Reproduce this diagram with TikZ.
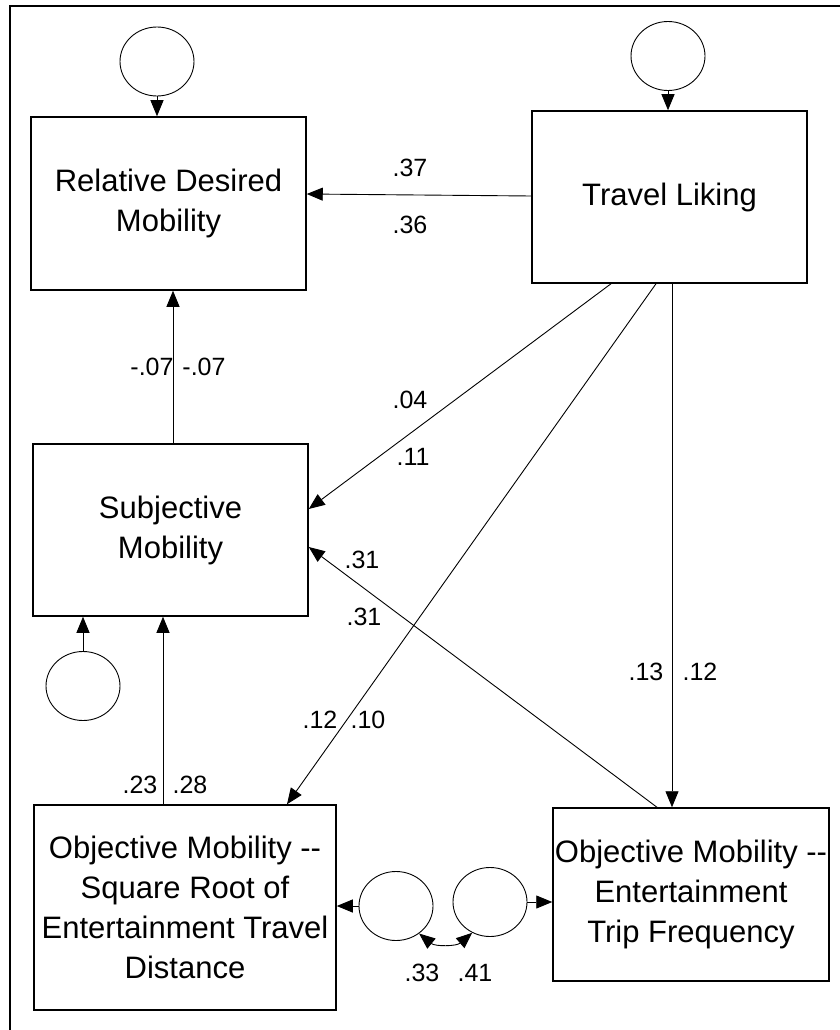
\documentclass[tikz,border=0pt]{standalone}
\usepackage{fontspec}
\setmainfont{Liberation Sans}
\usetikzlibrary{arrows.meta,shapes.geometric}

\tikzset{
  varbox/.style={draw,line width=1.5pt,rectangle,inner sep=0pt,align=center,
    font=\fontsize{31}{40}\selectfont},
  errcirc/.style={draw,line width=0.9pt,ellipse,inner sep=0pt,minimum width=74pt,minimum height=69pt},
  path/.style={line width=0.9pt,-{Triangle[length=16pt,width=13pt]}},
  coef/.style={inner sep=0pt,font=\fontsize{25}{25}\selectfont}
}

\begin{document}
\begin{tikzpicture}[x=1pt,y=-1pt]
	\useasboundingbox (0,0) rectangle (840,1030);
	\draw[line width=2pt] (9.5,1030) -- (9.5,6) -- (840,6);
	% observed variables
	\node[varbox,minimum width=275pt,minimum height=173pt] (rdm) at (168.5,203.5) {Relative Desired\\Mobility};
	\node[varbox,minimum width=275pt,minimum height=172pt] (tl) at (669.5,197) {Travel Liking};
	\node[varbox,minimum width=275pt,minimum height=172pt] (sm) at (170.5,530) {Subjective\\Mobility};
	\node[varbox,minimum width=302pt,minimum height=205pt] (omd) at (185,907.5) {Objective Mobility -{}-\\Square Root of\\Entertainment Travel\\Distance};
	\node[varbox,minimum width=276pt,minimum height=173pt] (omf) at (691,894.5) {Objective Mobility -{}-\\Entertainment\\Trip Frequency};
	% error terms
	\node[errcirc] (e1) at (157,61.5) {};
	\node[errcirc] (e2) at (668,56) {};
	\node[errcirc] (e3) at (83,686) {};
	\node[errcirc] (e4) at (396,906) {};
	\node[errcirc] (e5) at (490,902) {};
	% paths
	\draw[path] (e1.south) -- (e1.south |- rdm.north);
	\draw[path] (e2.south) -- (e2.south |- tl.north);
	\draw[path] (e3.north) -- (e3.north |- sm.south);
	\draw[path] (e4.west) -- (e4.west -| omd.east);
	\draw[path] (e5.east) -- (e5.east -| omf.west);
	\draw[path] ([yshift=1pt]tl.west) -- ([yshift=9.5pt]rdm.east);
	\draw[path] ([xshift=2.5pt]sm.north) -- ([xshift=2.5pt]sm.north |- rdm.south);
	\draw[path] ([xshift=-58.5pt]tl.south) -- ([yshift=21pt]sm.east);
	\draw[path] ([xshift=-13.5pt]tl.south) -- ([xshift=102pt]omd.north);
	\draw[path] ([xshift=2.5pt]tl.south) -- ([xshift=2.5pt]tl.south |- omf.north);
	\draw[path] ([xshift=-34pt]omf.north) -- ([yshift=-17pt]sm.east);
	\draw[path] ([xshift=-22pt]omd.north) -- ([xshift=-22pt]omd.north |- sm.south);
	\draw[line width=0.9pt,{Triangle[length=16pt,width=13pt]}-{Triangle[length=16pt,width=13pt]}] (e4.-50) to[bend right=40] (e5.-120);
	% coefficients
	\node[coef] (c1) at (410,168) {.37};
	\node[coef] (c2) at (410,225) {.36};
	\node[coef] (c3) at (152,367) {-.07};
	\node[coef] (c4) at (204,367) {-.07};
	\node[coef] (c5) at (410,400) {.04};
	\node[coef] (c6) at (413,457) {.11};
	\node[coef] (c7) at (362,560) {.31};
	\node[coef] (c8) at (364,617) {.31};
	\node[coef] (c9) at (646,672) {.13};
	\node[coef] (c10) at (700,672) {.12};
	\node[coef] (c11) at (320,720) {.12};
	\node[coef] (c12) at (368,720) {.10};
	\node[coef] (c13) at (140,785) {.23};
	\node[coef] (c14) at (190,785) {.28};
	\node[coef] (c15) at (422,973) {.33};
	\node[coef] (c16) at (475,973) {.41};
\end{tikzpicture}
\end{document}
